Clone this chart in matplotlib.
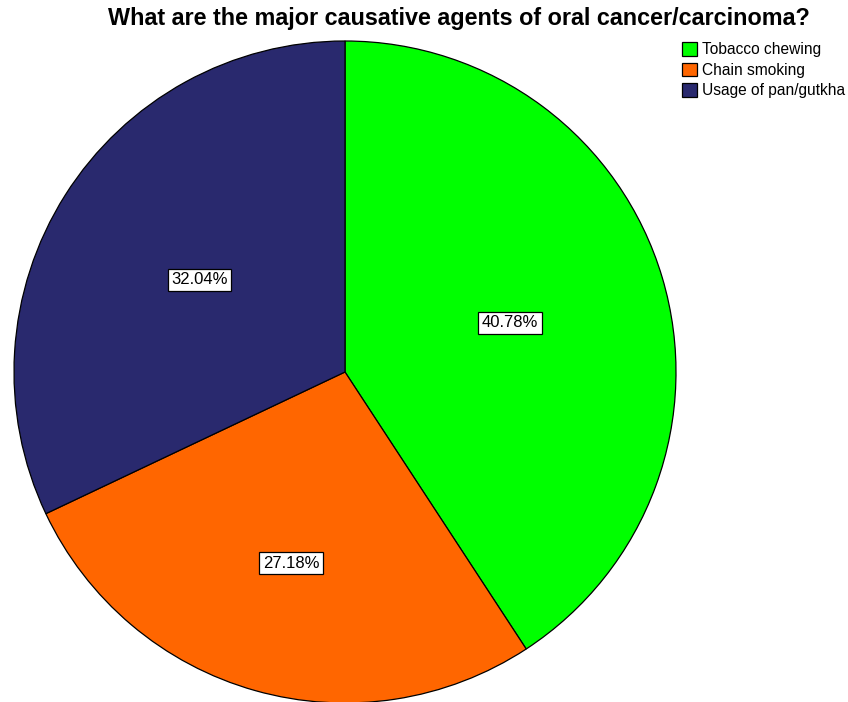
import numpy as np
import matplotlib.pyplot as plt

plt.rcParams['font.family'] = ['Liberation Sans', 'DejaVu Sans']

# ── Data ──────────────────────────────────────────────────────────────────────
labels = ['Tobacco chewing', 'Chain smoking', 'Usage of pan/gutkha']
shares = [40.78, 27.18, 32.04]
colors = ['#00FF00', '#FF6600', '#29296E']
label_dist = [0.52, 0.60, 0.52]

fig = plt.figure(figsize=(8.48, 7.02), dpi=100)

# pie centre ~ (345, 372) px, radius ~331 px
cx, cy, r = 345, 372, 331
W, H = 848, 702
ax = fig.add_axes([(cx - r) / W, (H - cy - r) / H, 2 * r / W, 2 * r / H])

wedges, _ = ax.pie(shares, colors=colors, startangle=90, counterclock=False,
                   radius=1.0,
                   wedgeprops=dict(edgecolor='black', linewidth=0.9))
ax.set_xlim(-1, 1)
ax.set_ylim(-1, 1)
ax.set_aspect('equal')
ax.axis('off')

for w, val, d in zip(wedges, shares, label_dist):
    ang = np.deg2rad((w.theta1 + w.theta2) / 2)
    ax.text(d * np.cos(ang), d * np.sin(ang), f'{val:.2f}%',
            ha='center', va='center', fontsize=12,
            bbox=dict(boxstyle='square,pad=0.22', fc='white', ec='black', lw=0.9))

fig.suptitle('What are the major causative agents of oral cancer/carcinoma?',
             x=459 / W, y=1 - 7 / H, va='top', fontsize=16.8, fontweight='bold')

fig.legend(wedges, labels, loc='upper left', bbox_to_anchor=(679 / W, 1 - 39 / H),
           frameon=False, fontsize=11.2, handlelength=0.95, handleheight=0.95,
           handletextpad=0.3, labelspacing=0.35, borderaxespad=0, borderpad=0.2)

fig.savefig('out.png', dpi=100)
